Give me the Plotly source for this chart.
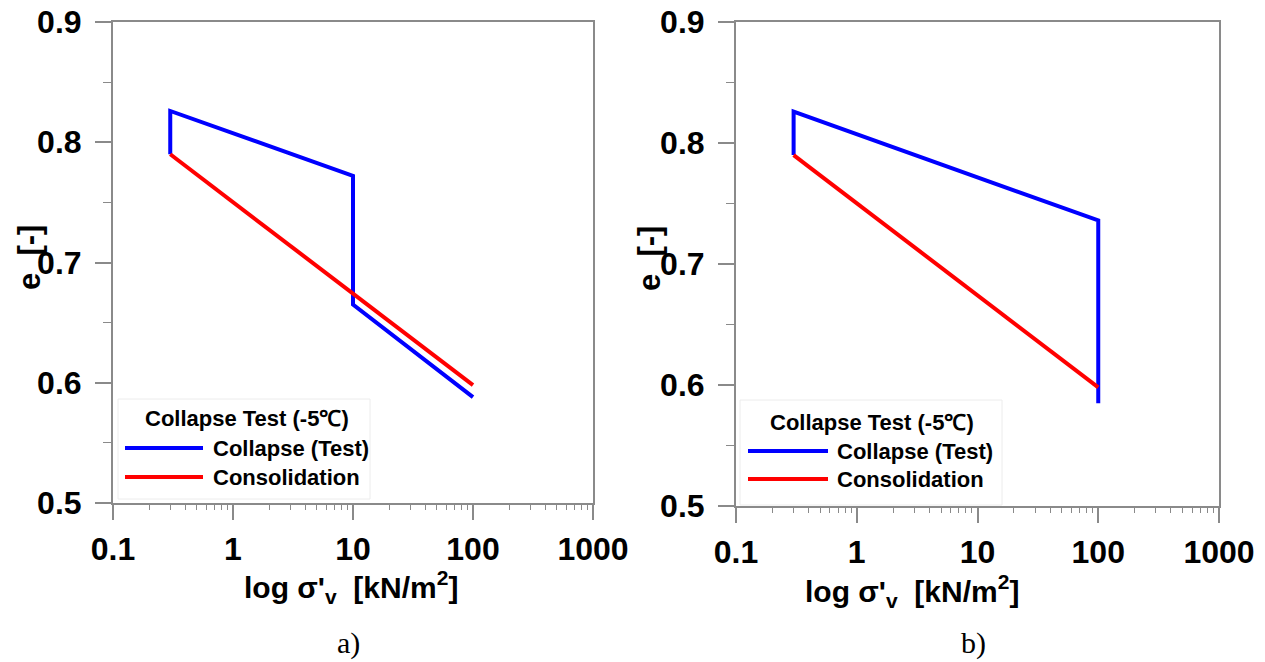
import plotly.graph_objects as go

W, H = 1265, 662

# ---- data ----
a_blue_x = [0.3, 0.3, 10, 10, 100]
a_blue_y = [0.790, 0.826, 0.772, 0.665, 0.588]
a_red_x = [0.3, 100]
a_red_y = [0.790, 0.598]

b_blue_x = [0.3, 0.3, 100, 100]
b_blue_y = [0.790, 0.826, 0.736, 0.585]
b_red_x = [0.3, 100]
b_red_y = [0.790, 0.598]

x_tickvals = [0.1, 1, 10, 100, 1000]
x_ticktext = ["0.1", "1", "10", "100", "1000"]
y_tickvals = [0.5, 0.6, 0.7, 0.8, 0.9]
y_ticktext = ["0.5", "0.6", "0.7", "0.8", "0.9"]
x_minor = [m * 10 ** e for e in range(-1, 3) for m in range(2, 10)]

legend_title = "Collapse Test (-5℃)"
legend_names = ["Collapse (Test)", "Consolidation"]
captions = ["a)", "b)"]

BLUE = "#0000ff"
RED = "#ff0000"
FONT = "Liberation Sans"
AXC = "#8a8a8a"


def px(x):
    return x / W


def py(y):
    return 1 - y / H


fig = go.Figure()
fig.add_trace(go.Scatter(x=a_blue_x, y=a_blue_y, mode="lines", line=dict(color=BLUE, width=4),
                         xaxis="x", yaxis="y", showlegend=False, name=legend_names[0]))
fig.add_trace(go.Scatter(x=a_red_x, y=a_red_y, mode="lines", line=dict(color=RED, width=4),
                         xaxis="x", yaxis="y", showlegend=False, name=legend_names[1]))
fig.add_trace(go.Scatter(x=b_blue_x, y=b_blue_y, mode="lines", line=dict(color=BLUE, width=4),
                         xaxis="x2", yaxis="y2", showlegend=False, name=legend_names[0]))
fig.add_trace(go.Scatter(x=b_red_x, y=b_red_y, mode="lines", line=dict(color=RED, width=4),
                         xaxis="x2", yaxis="y2", showlegend=False, name=legend_names[1]))

tickfont = dict(family=FONT, size=32, color="black", weight="bold")


def xaxis_def(domain, anchor):
    return dict(type="log", domain=domain, anchor=anchor, range=[-1, 3], automargin=False,
                tickvals=x_tickvals, ticktext=x_ticktext, tickfont=tickfont,
                ticks="outside", ticklen=15, tickwidth=1.5, tickcolor=AXC,
                ticklabelstandoff=2,
                minor=dict(tickvals=x_minor, ticks="outside", ticklen=5, tickwidth=1.2, tickcolor=AXC),
                showline=True, linecolor=AXC, linewidth=2, mirror=True,
                showgrid=False, zeroline=False)


def yaxis_def(domain, anchor):
    return dict(domain=domain, anchor=anchor, range=[0.5, 0.9], automargin=False,
                tickvals=y_tickvals, ticktext=y_ticktext, tickfont=tickfont,
                ticks="outside", ticklen=16, tickwidth=1.5, tickcolor=AXC,
                ticklabelstandoff=7,
                minor=dict(dtick=0.05, ticks="outside", ticklen=8, tickwidth=1.2, tickcolor=AXC),
                showline=True, linecolor=AXC, linewidth=2, mirror=True,
                showgrid=False, zeroline=False)


fig.update_layout(
    width=W, height=H,
    margin=dict(l=0, r=0, t=0, b=0, autoexpand=False),
    paper_bgcolor="white", plot_bgcolor="white",
    showlegend=False,
    xaxis=xaxis_def([px(113), px(593)], "y"),
    yaxis=yaxis_def([py(503), py(22)], "x"),
    xaxis2=xaxis_def([px(736), px(1219)], "y2"),
    yaxis2=yaxis_def([py(506), py(22)], "x2"),
)

anns = []
shapes = []

# axis titles
xt = "log σ'<sub>v</sub>  [kN/m<sup>2</sup>]"
for cx, cy in [(351, 587), (912, 591)]:
    anns.append(dict(x=px(cx), y=py(cy), xref="paper", yref="paper", text=xt, showarrow=False,
                     font=dict(family=FONT, size=30, color="black", weight="bold"),
                     xanchor="center", yanchor="middle"))
for cx, cy in [(29, 258), (649, 259)]:
    anns.append(dict(x=px(cx), y=py(cy), xref="paper", yref="paper", text="e  [-]", showarrow=False,
                     textangle=-90,
                     font=dict(family=FONT, size=31, color="black", weight="bold"),
                     xanchor="center", yanchor="middle"))

# captions
for text, cx in zip(captions, [348, 973]):
    anns.append(dict(x=px(cx), y=py(643), xref="paper", yref="paper", text=text, showarrow=False,
                     font=dict(family="Liberation Serif", size=30, color="black"),
                     xanchor="center", yanchor="middle"))

# manual legends
legends = [
    dict(box=(118, 399, 370, 499), title=(247, 418), lx=(125, 203), ly=(448, 477), tx=211),
    dict(box=(740, 400, 1002, 505), title=(872, 422), lx=(748, 828), ly=(451, 479), tx=835),
]
for lg in legends:
    x0, y0, x1, y1 = lg["box"]
    shapes.append(dict(type="rect", xref="paper", yref="paper", x0=px(x0), x1=px(x1),
                       y0=py(y1), y1=py(y0), line=dict(color="#ececec", width=1),
                       fillcolor="white", layer="above"))
    anns.append(dict(x=px(lg["title"][0]), y=py(lg["title"][1]), xref="paper", yref="paper",
                     text=legend_title, showarrow=False,
                     font=dict(family=FONT, size=22, color="black", weight="bold"),
                     xanchor="center", yanchor="middle"))
    for name, col, yy in zip(legend_names, [BLUE, RED], lg["ly"]):
        shapes.append(dict(type="line", xref="paper", yref="paper", x0=px(lg["lx"][0]), x1=px(lg["lx"][1]),
                           y0=py(yy), y1=py(yy), line=dict(color=col, width=4), layer="above"))
        anns.append(dict(x=px(lg["tx"]), y=py(yy), xref="paper", yref="paper", text=name,
                         showarrow=False,
                         font=dict(family=FONT, size=22, color="black", weight="bold"),
                         xanchor="left", yanchor="middle"))

fig.update_layout(annotations=anns, shapes=shapes)
fig.write_html("out.html")
